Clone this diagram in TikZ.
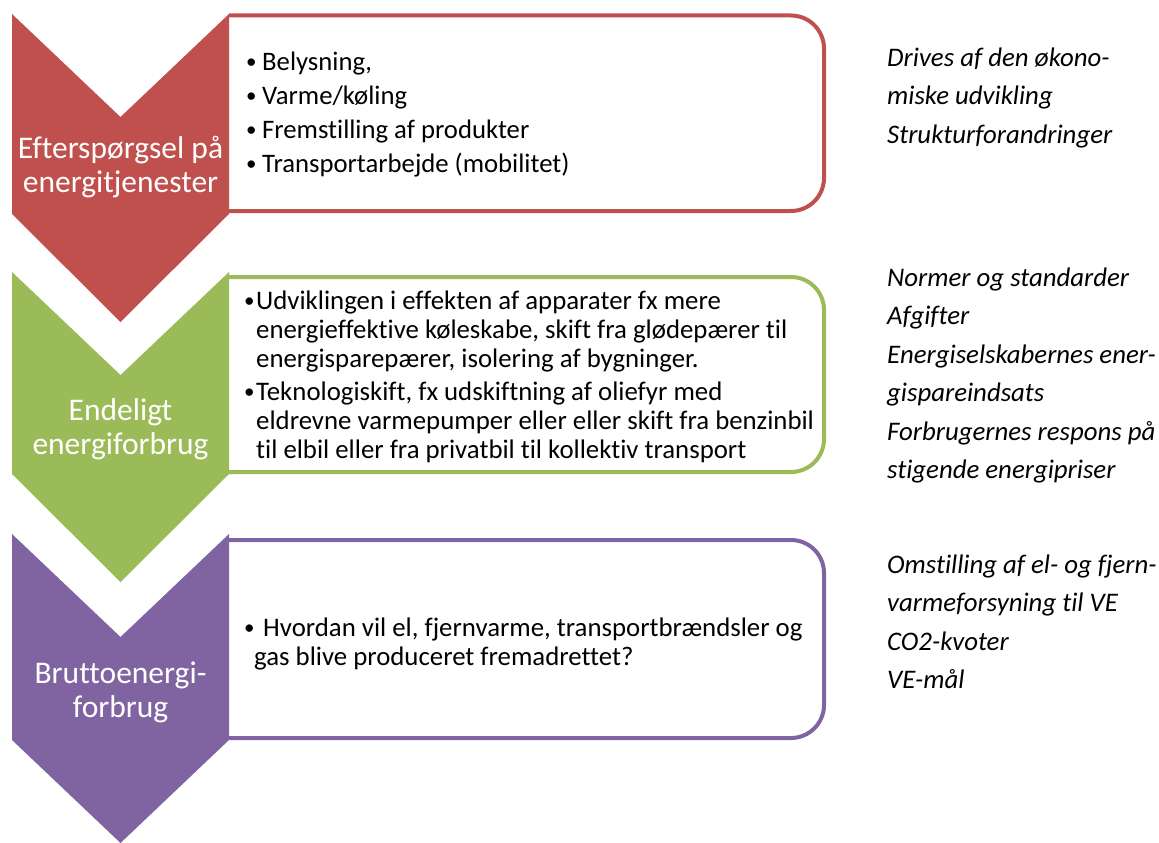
\documentclass[tikz,border=0pt]{standalone}
\usepackage{fontspec}
\setmainfont{Carlito}[RawFeature=-liga]
\usepackage{xcolor}
\usetikzlibrary{positioning}

\definecolor{tierred}{HTML}{C0504D}
\definecolor{tiergreen}{HTML}{9BBB59}
\definecolor{tierpurple}{HTML}{8064A2}

\tikzset{
  panel/.style={draw=#1, line width=4pt, rounded corners=33pt},
  tierlabel/.style={anchor=north, align=center, inner sep=0pt, text=white,
    font=\fontsize{31.5}{34}\selectfont},
  items/.style={anchor=north west, align=left, inner sep=0pt,
    font=\fontsize{26.7}{34}\selectfont},
  smallitems/.style={anchor=north west, align=left, inner sep=0pt,
    font=\fontsize{26.8}{29}\selectfont},
  drivers/.style={anchor=north west, align=left, inner sep=0pt,
    font=\fontsize{26.8}{38.5}\selectfont\itshape}
}
\newcommand{\itm}[1]{\makebox[#1][l]{\raisebox{2pt}{\fontsize{21}{21}\selectfont\textbullet}}}

\begin{document}
\begin{tikzpicture}[x=1pt, y=-1pt]
    \useasboundingbox (0,0) rectangle (1159,843);

    % panels (left side hidden under the chevrons)
    \draw[panel=tierred] (229,15.5) -- (824,15.5) -- (824,211) -- (229,211);
    \draw[panel=tiergreen] (229,277) -- (824,277) -- (824,472) -- (229,472);
    \draw[panel=tierpurple] (229,540) -- (824,540) -- (824,738) -- (229,738);

    % chevrons
    \fill[tierred] (12,14) -- (120.5,117) -- (229,14) -- (229,214) -- (120.5,322) -- (12,214) -- cycle;
    \fill[tiergreen] (12,272) -- (120.5,375) -- (229,272) -- (229,474) -- (120.5,582) -- (12,474) -- cycle;
    \fill[tierpurple] (12,534) -- (120.5,637) -- (229,534) -- (229,740) -- (120.5,843) -- (12,740) -- cycle;

    \node[tierlabel] (demand) at (120.5,134.2) {\strut Efterspørgsel på\\energitjenester};
    \node[tierlabel] (final) at (120.5,396.2) {\strut Endeligt\\energiforbrug};
    \node[tierlabel] (gross) at (120.5,659.2) {\strut Bruttoenergi-\\forbrug};

    \node[items] (services) at (246,46.2) {\strut\itm{16pt}Belysning,\\ \itm{16pt}Varme/køling\\
        \itm{16pt}Fremstilling af produkter\\ \itm{16pt}Transportarbejde (mobilitet)};
    \node[smallitems] (usage) at (244,288.7) {\strut\itm{12pt}Udviklingen i effekten af apparater fx mere\\
        \hspace*{12pt}energieffektive køleskabe, skift fra glødepærer til\\
        \hspace*{12pt}energisparepærer, isolering af bygninger.\\[4pt]
        \itm{12pt}Teknologiskift, fx udskiftning af oliefyr med\\
        \hspace*{12pt}eldrevne varmepumper eller eller skift fra benzinbil\\
        \hspace*{12pt}til elbil eller fra privatbil til kollektiv transport};
    \node[smallitems] (supply) at (244,615.7) {\strut\itm{19pt}Hvordan vil el, fjernvarme, transportbrændsler og\\
        \hspace*{10pt}gas blive produceret fremadrettet?};

    \node[drivers] (growth) at (887,39) {\strut Drives af den økono-\\miske udvikling\\Strukturforandringer};
    \node[drivers] (policy) at (887,259) {\strut Normer og standarder\\Afgifter\\Energiselskabernes ener-\\
        gispareindsats\\Forbrugernes respons på\\stigende energipriser};
    \node[drivers] (shift) at (887,546) {\strut Omstilling af el- og fjern-\\varmeforsyning til VE\\CO2-kvoter\\VE-mål};
\end{tikzpicture}
\end{document}
